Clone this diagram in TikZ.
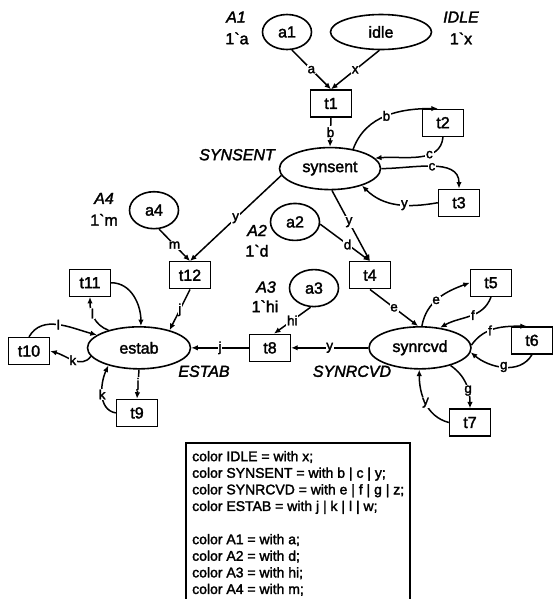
\documentclass[tikz,border=0pt]{standalone}
\usepackage{fontspec}
\newfontfamily\af{Liberation Sans}[Ligatures=TeXOff, FakeBold=2]
\usetikzlibrary{shapes.geometric,arrows.meta,calc}
\begin{document}
\begin{tikzpicture}[x=1pt,y=1.067pt,
  every node/.style={font=\af\fontsize{16}{18}\selectfont},
  pstyle/.style={draw, ellipse, line width=1.6pt, minimum width=49pt, minimum height=37pt, inner sep=0pt},
  bigpstyle/.style={pstyle, minimum width=101pt, minimum height=42pt},
  tstyle/.style={draw, rectangle, line width=1.4pt, minimum width=41pt, minimum height=27pt, inner sep=0pt},
  conn/.style={line width=1.5pt, -{Latex[length=6.5pt,width=5.5pt]}},
  lbl/.style={fill=white, inner sep=0.8pt, font=\af\fontsize{13.5}{15}\selectfont},
  cname/.style={font=\af\itshape\fontsize{16}{18}\selectfont, inner sep=0pt},
  tok/.style={font=\af\fontsize{16}{18}\selectfont, inner sep=0pt}]
\useasboundingbox (0pt,0pt) rectangle (558pt,-599pt);
% places
\node[pstyle, minimum height=35pt] (a1) at (287,-30) {a1};
\node[bigpstyle, minimum height=35pt] (idle) at (381,-30) {idle};
\node[bigpstyle] (synsent) at (330,-158) {synsent};
\node[pstyle] (a4) at (154,-197) {a4};
\node[pstyle] (a2) at (295,-208) {a2};
\node[pstyle] (a3) at (314,-270) {a3};
\node[bigpstyle, minimum width=103pt] (estab) at (139,-326) {estab};
\node[bigpstyle, minimum width=102pt] (synrcvd) at (420,-326) {synrcvd};
% transitions
\node[tstyle] (t1) at (331,-97) {t1};
\node[tstyle] (t2) at (443,-115) {t2};
\node[tstyle] (t3) at (459,-190) {t3};
\node[tstyle] (t12) at (190,-258) {t12};
\node[tstyle] (t4) at (370,-258) {t4};
\node[tstyle] (t11) at (90,-265) {t11};
\node[tstyle] (t5) at (491,-265) {t5};
\node[tstyle] (t10) at (29,-329) {t10};
\node[tstyle] (t8) at (270,-326) {t8};
\node[tstyle] (t6) at (532,-319) {t6};
\node[tstyle] (t9) at (137,-387) {t9};
\node[tstyle] (t7) at (470,-396) {t7};
% colour set names and initial markings
\node[cname] (A1l) at (236,-16) {A1};
\node[tok] (A1t) at (237,-36) {1`a};
\node[cname] (IDLEl) at (461,-16) {IDLE};
\node[tok] (IDLEt) at (461,-36) {1`x};
\node[cname] (SYNSENTl) at (237,-145) {SYNSENT};
\node[cname] (A4l) at (104,-186) {A4};
\node[tok] (A4t) at (104,-206) {1`m};
\node[cname] (A2l) at (257,-216) {A2};
\node[tok] (A2t) at (257,-235) {1`d};
\node[cname] (A3l) at (266,-269) {A3};
\node[tok] (A3t) at (265,-287) {1`hi};
\node[cname] (ESTABl) at (204,-348) {ESTAB};
\node[cname] (SYNRCVDl) at (352,-348) {SYNRCVD};
% arcs
\draw[conn] (a1.-75) -- node[lbl]{a} (t1.north);
\draw[conn] (idle.-95) -- node[lbl]{x} (t1.north);
\draw[conn] (t1.south) -- node[lbl]{b} (synsent.north);
\draw[conn] (synsent.40) to[out=70,in=180] node[lbl,pos=0.5]{b} ($(t2.north west)+(16,0)$);
\draw[conn] (t2.south) to[out=-95,in=5] node[lbl,pos=0.35]{c} (synsent.13);
\draw[conn] (synsent.0) to[out=0,in=90] node[lbl,pos=0.5]{c} (t3.north);
\draw[conn] (t3.west) to[out=190,in=-45] node[lbl,pos=0.4]{y} (synsent.-28);
\draw[conn] (synsent.188) -- node[lbl]{y} (t12.north);
\draw[conn] (a4.-75) -- node[lbl]{m} (t12.north);
\draw[conn] (synsent.-85) -- node[lbl,pos=0.45]{y} (t4.north);
\draw[conn] (a2.-5) -- node[lbl,pos=0.55]{d} (t4.north);
\draw[conn] (t12.south) -- node[lbl]{j} (estab.30);
\draw[conn] (t11.east) to[out=0,in=90] (estab.85);
\draw[conn] (estab.150) to[out=160,in=-90] node[lbl,pos=0.6]{l} (t11.south);
\draw[conn] (t10.north) to[out=60,in=165] node[lbl]{l} (estab.163);
\draw[conn] (estab.190) to[out=235,in=-15] node[lbl]{k} (t10.east);
\draw[conn] (t8.west) -- node[lbl]{j} (estab.east);
\draw[conn] (a3.-100) -- node[lbl]{hi} ($(t8.north)+(4,0)$);
\draw[conn] (synrcvd.west) -- node[lbl]{y} (t8.east);
\draw[conn] (t4.south) -- node[lbl]{e} (synrcvd.95);
\draw[conn] (synrcvd.85) to[out=80,in=200] node[lbl,pos=0.45]{e} (t5.west);
\draw[conn] (t5.south) to[out=-110,in=30] node[lbl,pos=0.45]{f} (synrcvd.45);
\draw[conn] (synrcvd.3) to[out=55,in=180] node[lbl,pos=0.4]{f} ($(t6.north west)+(16,0)$);
\draw[conn] (t6.south) to[out=-120,in=-40] node[lbl]{g} (synrcvd.-5);
\draw[conn] (synrcvd.-30) to[out=-35,in=90] node[lbl,pos=0.65]{g} (t7.north);
\draw[conn] (t7.west) to[out=165,in=-90] node[lbl]{y} (synrcvd.-92);
\draw[conn] (estab.south) -- node[lbl]{j} (t9.north);
\draw[conn] (t9.west) to[out=170,in=-115] node[lbl]{k} (estab.-150);
% declarations
\node[anchor=north west, align=left, inner sep=0pt, font=\af\fontsize{14}{16.6}\selectfont] (decl) at (192,-422.5)
 {color IDLE = with x;\\
  color SYNSENT = with b | c | y;\\
  color SYNRCVD = with e | f | g | z;\\
  color ESTAB = with j | k | l | w;\\[16.6pt]
  color A1 = with a;\\
  color A2 = with d;\\
  color A3 = with hi;\\
  color A4 = with m;};
\draw[line width=1.4pt] (186,-562.5) |- (410,-415) -- (410,-562.5);
\end{tikzpicture}
\end{document}
